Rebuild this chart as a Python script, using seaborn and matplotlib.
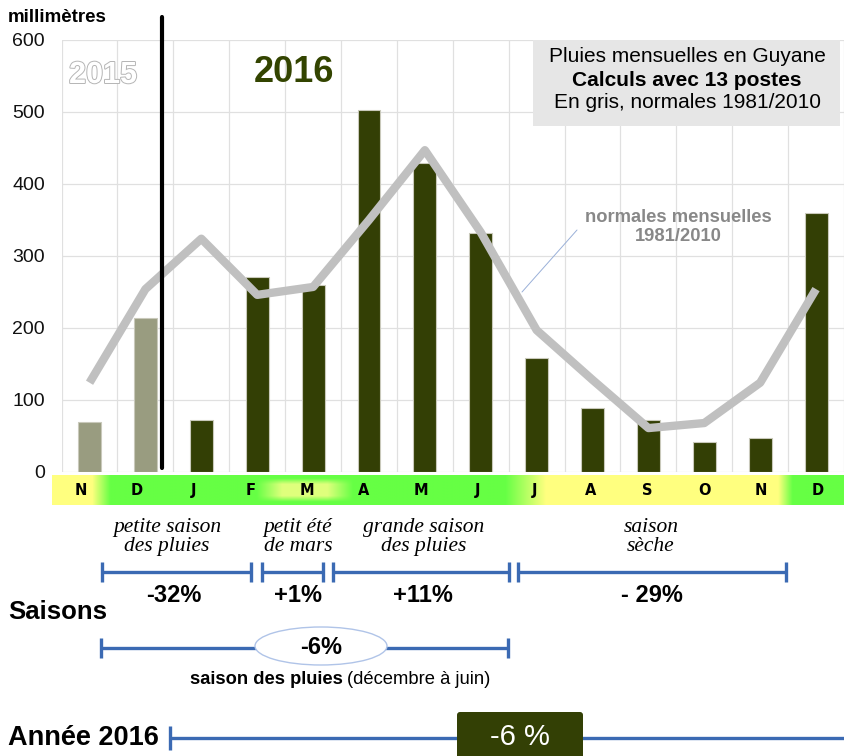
import numpy as np
import pandas as pd
import seaborn as sns
import matplotlib.pyplot as plt
import matplotlib.patheffects as pe
from matplotlib.patches import Ellipse, FancyBboxPatch, Rectangle

# données (mm)
mois = ['N', 'D', 'J', 'F', 'M', 'A', 'M', 'J', 'J', 'A', 'S', 'O', 'N', 'D']
annee = ['2015', '2015'] + ['2016'] * 12
pluies = [69, 214, 72, 271, 260, 503, 429, 332, 158, 89, 72, 42, 47, 360]
normales = [124, 254, 324, 246, 257, 350, 447, 333, 197, 128, 61, 68, 124, 254]

saisons = ['petite saison\ndes pluies', 'petit été\nde mars', 'grande saison\ndes pluies', 'saison\nsèche']
ecarts = ['-32%', '+1%', '+11%', '- 29%']
ecart_pluies = '-6%'
ecart_annee = '-6 %'

df = pd.DataFrame({'pos': range(len(mois)), 'mois': mois, 'annee': annee,
                   'pluies': pluies, 'normales': normales})

sns.set_theme(style='white')
plt.rcParams['font.family'] = ['Liberation Sans', 'DejaVu Sans']
plt.rcParams['text.color'] = 'black'
plt.rcParams['ytick.color'] = 'black'

W, H = 844, 756
fig = plt.figure(figsize=(W / 100, H / 100), dpi=100)

# graphique principal
ax = fig.add_axes([61.6 / W, 1 - 472 / H, (W - 61.6) / W, 432 / H])
sns.barplot(data=df, x='pos', y='pluies', hue='annee',
            palette={'2015': '#999c80', '2016': '#333f05'}, dodge=False, saturation=1,
            width=0.41, edgecolor='#c9c9bb', linewidth=0.8, legend=False, ax=ax, zorder=2)
sns.lineplot(data=df, x='pos', y='normales', color='#c0c0c0', lw=6,
             solid_capstyle='butt', ax=ax, zorder=3)
ax.plot([1.29, 1.29], [5, 632], color='black', lw=3, clip_on=False, zorder=4)

ax.set_xlim(-0.5, 13.5)
ax.set_ylim(0, 600)
ax.set_yticks(range(0, 601, 100))
ax.set_xticks([])
ax.set_xticks(np.arange(-0.5, 14, 1), minor=True)
ax.grid(True, which='major', axis='y', color='#e0e0e0', lw=0.9, zorder=0)
ax.grid(True, which='minor', axis='x', color='#e0e0e0', lw=0.9, zorder=0)
ax.set_axisbelow(True)
ax.tick_params(axis='y', length=0, pad=12, labelsize=14, labelcolor='#111111')
ax.tick_params(axis='x', which='both', length=0)
ax.set_xlabel('')
ax.set_ylabel('')
for s in ax.spines.values():
    s.set_visible(False)

# bandeau des mois
sx = fig.add_axes([52 / W, 1 - 505 / H, (846 - 52) / W, 30 / H])
xs = np.linspace(-0.5, 13.5, 800)
ys = np.linspace(0, 1, 40)
jaune = np.interp(xs, [-0.5, 0.2, 0.52, 7.49, 8.2, 12.3, 12.55, 13.5],
                  [1, 1, 0, 0, 1, 1, 0, 0])
glow_x = np.interp(xs, [3.1, 3.55, 4.35, 4.8], [0, 0.95, 0.95, 0])
glow_y = np.interp(ys, [0, 0.1, 0.3, 0.7, 0.9, 1], [0, 0, 1, 1, 0, 0])
vert = np.array([0.40, 1.0, 0.27])
jaune_c = np.array([1.0, 1.0, 0.50])
glow_c = np.array([0.90, 1.0, 0.50])
t = jaune[None, :, None] * np.ones((len(ys), 1, 1))
img = vert * (1 - t) + jaune_c * t
g = (glow_y[:, None] * glow_x[None, :])[:, :, None]
img = img * (1 - g) + glow_c * g
sx.imshow(img, extent=[-0.5, 13.5, 0, 1], aspect='auto', origin='lower')
for i, m in enumerate(mois):
    sx.text(i, 0.48, m, ha='center', va='center', fontsize=10.5,
            fontweight='bold', family='DejaVu Sans', color='black')
sx.set_xlim(-0.5, 13.5)
sx.set_ylim(0, 1)
sx.axis('off')

# calque en pixels pour les annotations
ov = fig.add_axes([0, 0, 1, 1])
ov.set_xlim(0, W)
ov.set_ylim(H, 0)
ov.axis('off')
ov.patch.set_alpha(0)

ov.text(8, 18, 'millimètres', fontsize=13.5, fontweight='bold', va='center', ha='left')
ov.text(103, 75, '2015', fontsize=22, fontweight='bold', color='white', ha='center', va='center',
        path_effects=[pe.withStroke(linewidth=1.4, foreground='#b5b5b5')])
ov.text(294, 73, '2016', fontsize=26, fontweight='bold', color='#334400', ha='center', va='center')

ov.add_patch(Rectangle((533, 40), 307, 86, facecolor='#e6e6e6', edgecolor='none'))
ov.text(687, 57, 'Pluies mensuelles en Guyane', fontsize=15, ha='center', va='center')
ov.text(687, 80, 'Calculs avec 13 postes', fontsize=15, fontweight='bold', ha='center', va='center')
ov.text(687, 103, 'En gris, normales 1981/2010', fontsize=15, ha='center', va='center')

ov.text(678, 227, 'normales mensuelles\n1981/2010', fontsize=13.2, fontweight='bold',
        color='#888888', ha='center', va='center', linespacing=1.15)
ov.plot([577, 522], [230, 292], color='#9ab0d8', lw=0.7)

bleu = '#3b6ab3'


def accolade(x0, x1, y, h=10):
    ov.plot([x0, x1], [y, y], color=bleu, lw=2.4, solid_capstyle='butt')
    ov.plot([x0, x0], [y - h, y + h], color=bleu, lw=2.4, solid_capstyle='butt')
    ov.plot([x1, x1], [y - h, y + h], color=bleu, lw=2.4, solid_capstyle='butt')


serif = ['Liberation Serif', 'DejaVu Serif']
narrow = ['Liberation Sans Narrow', 'Liberation Sans', 'DejaVu Sans']
bornes = [(102, 251), (262, 323), (333, 509), (518, 786)]
centres_txt = [167, 298, 424, 651]
centres_pct = [174, 298, 423, 652]
for (x0, x1), cx, cp, s, e in zip(bornes, centres_txt, centres_pct, saisons, ecarts):
    ov.text(cx, 537, s, fontsize=15.5, style='italic', family=serif, ha='center', va='center',
            linespacing=1.0)
    accolade(x0, x1, 572)
    ov.text(cp, 596, e, fontsize=17, fontweight='bold', family=narrow, ha='center', va='center')

ov.text(8, 612, 'Saisons', fontsize=18.5, fontweight='bold', ha='left', va='center')
accolade(101, 508, 648)
ov.add_patch(Ellipse((321, 646), 132, 38, facecolor='white', edgecolor='#b0c4e8', lw=1, zorder=3))
ov.text(321, 647, ecart_pluies, fontsize=17, fontweight='bold', family=narrow,
        ha='center', va='center', zorder=4)
ov.text(343, 679, 'saison des pluies', fontsize=13.2, fontweight='bold', ha='right', va='center')
ov.text(347, 679, '(décembre à juin)', fontsize=13.2, ha='left', va='center')

ov.text(8, 738, 'Année 2016', fontsize=19.5, fontweight='bold', ha='left', va='center')
ov.plot([170, 844], [738, 738], color=bleu, lw=2.4, solid_capstyle='butt')
ov.plot([170, 170], [726, 750], color=bleu, lw=2.4, solid_capstyle='butt')
ov.add_patch(FancyBboxPatch((459, 714), 122, 60, boxstyle='round,pad=2,rounding_size=3',
                            facecolor='#334005', edgecolor='none', zorder=3))
ov.text(520, 737, ecart_annee, fontsize=21, color='white', family=narrow,
        ha='center', va='center', zorder=4)

fig.savefig('out.png', dpi=100)
